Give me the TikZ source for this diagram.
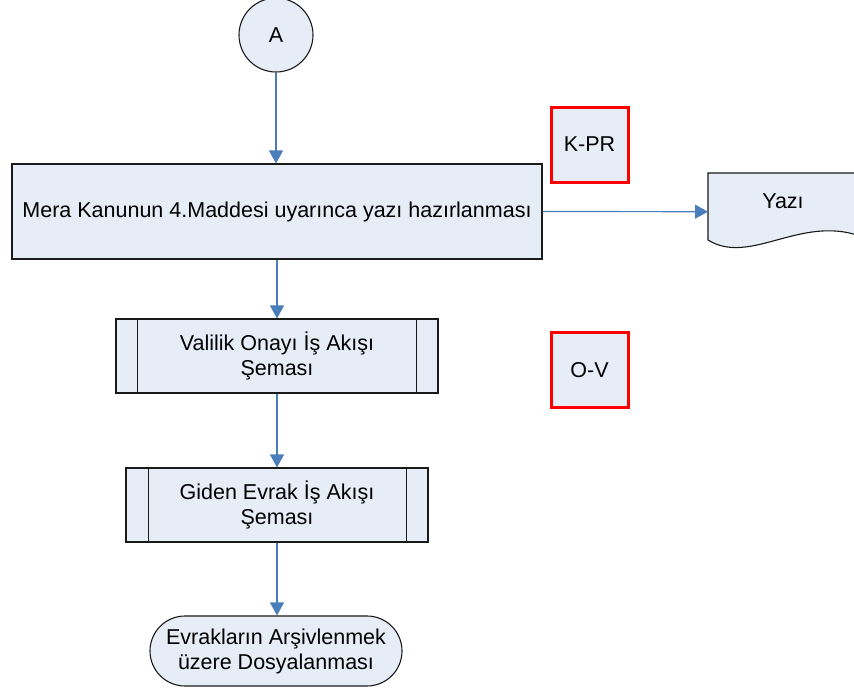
\documentclass[tikz,border=0pt]{standalone}
\usepackage{fontspec}
\setmainfont{Liberation Sans}
\usetikzlibrary{arrows.meta,shapes.misc}
\definecolor{boxfill}{HTML}{E7EDF7}
\definecolor{arrowblue}{HTML}{4A7EBB}
\definecolor{edgegray}{HTML}{1A1A1A}
\tikzset{
  every node/.style={font=\fontsize{21.5}{25}\selectfont, align=center, inner sep=0pt},
  box/.style={draw=edgegray, fill=boxfill, line width=1.1pt, rectangle},
  redbox/.style={draw=red, fill=boxfill, line width=3pt, rectangle, minimum width=77pt, minimum height=75pt},
  flow/.style={draw=arrowblue, line width=1.2pt, -{Triangle[length=13pt,width=14pt]}},
}
\begin{document}
\begin{tikzpicture}[x=1pt,y=-1pt]
\clip (0,0) rectangle (854,694);
\fill[white] (0,0) rectangle (854,694);

% connector A
\node[box, circle, minimum size=74pt] (A) at (276,35) {A};

% main process
\node[box, minimum width=530pt, minimum height=95pt] (main) at (277,211.5)
  {Mera Kanunun 4.Maddesi uyarınca yazı hazırlanması};

% red labels
\node[redbox] (kpr) at (589.5,144.5) {K-PR};
\node[redbox] (ov) at (589.5,370) {O-V};

% document
\node[minimum width=152pt, minimum height=77pt, anchor=north west] (doc) at (708,173) {};
\path[box] (doc.north west) -- (doc.north east) -- (860,236)
  .. controls (800,215) and (750,266) .. (708,240) -- cycle;
\node (yazi) at (783,201) {Yazı};

% predefined processes
\node[box, minimum width=322pt, minimum height=74pt] (val) at (277,356)
  {Valilik Onayı İş Akışı\\Şeması};
\draw[edgegray, line width=1.1pt] ([xshift=22pt]val.north west) -- ([xshift=22pt]val.south west)
  ([xshift=-22pt]val.north east) -- ([xshift=-22pt]val.south east);

\node[box, minimum width=302pt, minimum height=74pt] (gid) at (277,505)
  {Giden Evrak İş Akışı\\Şeması};
\draw[edgegray, line width=1.1pt] ([xshift=23pt]gid.north west) -- ([xshift=23pt]gid.south west)
  ([xshift=-22pt]gid.north east) -- ([xshift=-22pt]gid.south east);

% terminal
\node[box, rounded rectangle, minimum width=252pt, minimum height=70pt] (end) at (276,651)
  {Evrakların Arşivlenmek\\üzere Dosyalanması};

% connectors
\draw[flow] (A) -- (A |- main.north);
\draw[flow] (main.east) -- (doc.west);
\draw[flow] (main.south) -- (val.north);
\draw[flow] (val.south) -- (gid.north);
\draw[flow] (gid.south) -- (gid.south |- end.north);
\end{tikzpicture}
\end{document}
